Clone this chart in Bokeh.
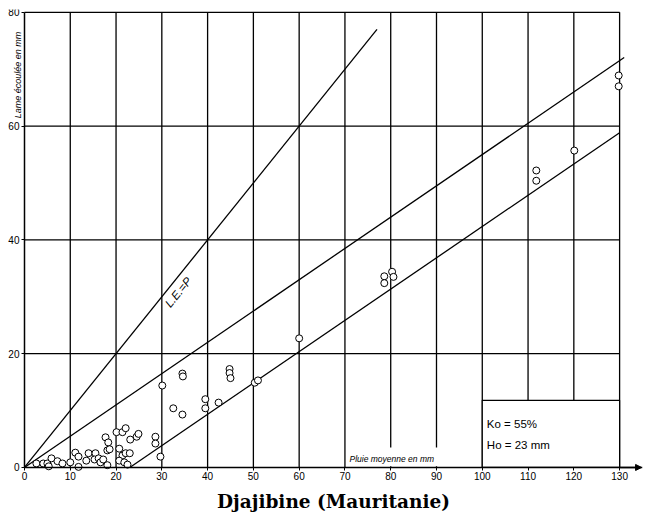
import math
from bokeh.plotting import figure
from bokeh.models import Label, Arrow, NormalHead, FixedTicker
from bokeh.embed import file_html
from bokeh.resources import INLINE

# ---- data ----
x_ticks = [0, 10, 20, 30, 40, 50, 60, 70, 80, 90, 100, 110, 120, 130]
y_ticks = [0, 20, 40, 60, 80]

# observed points: mean rainfall (mm) vs runoff depth (mm)
pluie = [2.6, 4.1, 5.0, 5.3, 5.9, 7.2, 8.3, 10.0, 11.1, 11.8, 11.8, 13.5, 14.0, 15.5,
         15.3, 16.2, 16.6, 17.2, 18.1, 17.7, 18.3, 18.1, 18.6, 20.1, 21.4, 22.1,
         20.7, 21.4, 22.1, 23.0, 20.7, 21.8, 22.5, 23.1, 24.5, 24.9, 28.6, 28.6,
         29.7, 30.1, 32.5, 34.5, 34.5, 34.6, 39.5, 39.5, 42.4, 44.8, 44.8, 45.0,
         50.3, 51.0, 60.0, 78.6, 78.6, 80.3, 80.6, 111.8, 111.8, 120.1, 129.8, 129.8]
lame = [0.7, 0.7, 0.7, 0.2, 1.6, 1.1, 0.7, 0.9, 2.6, 1.9, 0.1, 1.2, 2.5, 2.5,
        1.4, 1.6, 0.9, 1.4, 0.4, 5.3, 4.4, 3.0, 3.2, 6.2, 6.2, 6.9,
        3.3, 2.1, 2.5, 2.5, 1.2, 0.9, 0.5, 4.9, 5.4, 5.9, 5.4, 4.2,
        1.9, 14.4, 10.4, 9.3, 16.5, 16.0, 12.0, 10.4, 11.4, 17.3, 16.6, 15.7,
        14.9, 15.3, 22.7, 33.6, 32.4, 34.4, 33.5, 52.2, 50.4, 55.7, 68.9, 67.0]

Ko = 0.55      # runoff coefficient
Ho = 23        # threshold rainfall (mm)
le_x = [0, 77]             # L.E. = P line extent
ko_x = [0, 131]            # y = Ko * P
ho_x = [Ho, 130]           # y = Ko * (P - Ho)

p = figure(width=645, height=521, x_range=(-5.24, 135), y_range=(-9.5, 80.5),
           output_backend="svg", toolbar_location=None,
           min_border_left=0, min_border_right=3, min_border_top=9,
           min_border_bottom=0)
p.outline_line_color = None
p.xgrid.visible = False
p.ygrid.visible = False
p.background_fill_color = "white"
p.border_fill_color = "white"

# grid
p.segment(x0=x_ticks[1:], y0=[0] * (len(x_ticks) - 1), x1=x_ticks[1:], y1=[80] * (len(x_ticks) - 1),
          line_color="black", line_width=1.3)
p.segment(x0=[0] * (len(y_ticks) - 1), y0=y_ticks[1:], x1=[130] * (len(y_ticks) - 1), y1=y_ticks[1:],
          line_color="black", line_width=1.3)

# white area behind the x-axis caption
p.quad(left=[70.6], right=[99.6], bottom=[0.2], top=[3.5], fill_color="white", line_color=None)
# legend box
p.quad(left=[100], right=[130], bottom=[0], top=[11.8], fill_color="white",
       line_color="black", line_width=1.2)

# lines
p.line(le_x, le_x, line_color="black", line_width=1.3)
p.line(ko_x, [Ko * v for v in ko_x], line_color="black", line_width=1.3)
p.line(ho_x, [Ko * (v - Ho) for v in ho_x], line_color="black", line_width=1.3)

# points
p.scatter(pluie, lame, marker="circle", size=7, fill_color="white", line_color="black",
          line_width=1)

# axes
for ax in (p.xaxis[0], p.yaxis[0]):
    ax.axis_line_width = 1.5
    ax.axis_line_color = "black"
    ax.major_tick_line_color = "black"
    ax.major_tick_in = 0
    ax.major_tick_out = 3
    ax.minor_tick_line_color = None
    ax.major_label_text_font = "Liberation Sans"
    ax.major_label_text_font_size = "10px"
    ax.major_label_text_color = "black"
    ax.major_label_standoff = 2
p.xaxis.ticker = FixedTicker(ticks=x_ticks)
p.yaxis.ticker = FixedTicker(ticks=y_ticks)
p.xaxis.bounds = (0, 135)
p.yaxis.bounds = (0, 80)
p.yaxis.fixed_location = 0
p.xaxis.fixed_location = 0
p.xaxis.axis_label = "Djajibine (Mauritanie)"
p.xaxis.axis_label_text_font = "DejaVu Serif"
p.xaxis.axis_label_text_font_style = "bold"
p.xaxis.axis_label_text_font_size = "18.5px"
p.xaxis.axis_label_text_color = "black"
p.xaxis.axis_label_standoff = 7

p.add_layout(Arrow(end=NormalHead(size=6, fill_color="black", line_color="black"),
                   x_start=130, y_start=0, x_end=134.8, y_end=0, line_width=1.5,
                   line_color="black"))

# texts
p.add_layout(Label(x=-1.5, y=69, text="Lame écoulée en mm",
                   angle=math.pi / 2, text_align="center", text_baseline="middle",
                   text_font="Liberation Sans", text_font_style="italic",
                   text_font_size="9px", text_color="black"))
p.add_layout(Label(x=71, y=0.6, text="Pluie moyenne en mm", text_font="Liberation Sans",
                   text_font_style="italic", text_font_size="8.5px", text_color="black"))
p.add_layout(Label(x=33.6, y=30.8, text="L.E.=P", angle=0.89, text_align="center",
                   text_baseline="middle", text_font="Liberation Sans",
                   text_font_style="italic", text_font_size="11.5px", text_color="black"))
p.add_layout(Label(x=101, y=7.6, text="Ko = 55%", text_baseline="middle",
                   text_font="Liberation Sans", text_font_size="11.5px", text_color="black"))
p.add_layout(Label(x=101, y=3.9, text="Ho = 23 mm", text_baseline="middle",
                   text_font="Liberation Sans", text_font_size="11.5px", text_color="black"))

open("out.html", "w").write(file_html(p, INLINE))
